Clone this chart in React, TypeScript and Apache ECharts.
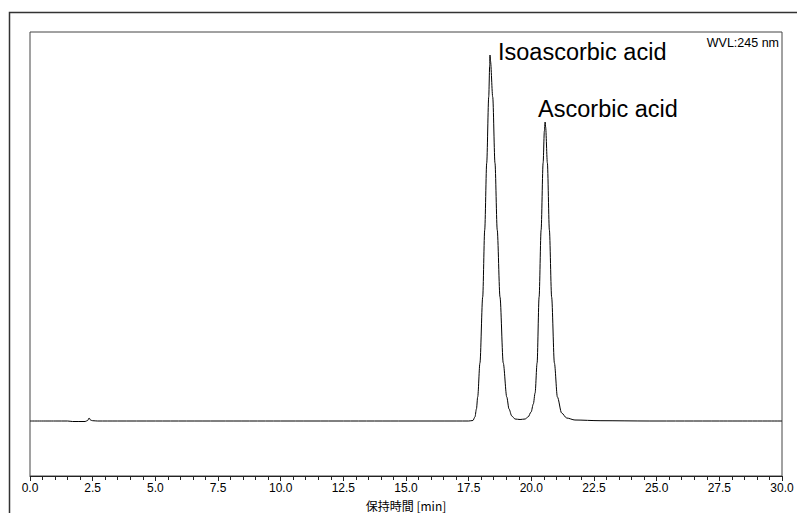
import React, { useEffect, useRef } from "react";
import * as echarts from "echarts";

// Retention time [min]
const retentionTime: number[] = [
  0, 1.0, 1.5, 1.7, 2.2, 2.3, 2.36, 2.42, 2.5, 2.7, 3.5, 5.0, 7.5, 10.0, 12.5, 15.0, 17.0, 17.5,
  17.67, 17.75, 17.81, 17.86, 17.95, 18.06, 18.14, 18.22, 18.3, 18.34, 18.35, 18.37, 18.46, 18.55,
  18.64, 18.75, 18.88, 19.02, 19.11, 19.22, 19.35, 19.55,
  19.75, 19.87, 19.99, 20.08, 20.15, 20.23, 20.31, 20.39, 20.47, 20.52, 20.55, 20.57, 20.64, 20.72,
  20.81, 20.92, 21.04, 21.21, 21.41, 21.74, 22.74, 24.73, 27.5, 30.0,
];

// Detector signal (arbitrary units, baseline = 0)
const signal: number[] = [
  0, 0, 0, -0.5, -0.5, 0.5, 3, 0.8, 0.3, 0, 0, 0, 0, 0, 0, 0, 0, 0,
  0.5, 4, 12, 24, 58, 124, 191, 258, 324, 356, 366, 360, 324, 258,
  191, 124, 58, 24, 12, 5, 2, 1.5,
  2, 4, 9, 17, 28, 58, 124, 191, 258, 290, 299, 294, 258, 191,
  124, 58, 24, 8, 3, 1, 0.3, 0, 0, 0,
];

const xTicks: number[] = [0, 2.5, 5, 7.5, 10, 12.5, 15, 17.5, 20, 22.5, 25, 27.5, 30];

const peakNames: string[] = ["Isoascorbic acid", "Ascorbic acid"];
const peakTimes: number[] = [18.35, 20.55];
const peakHeights: number[] = [366, 299];

const xAxisName = "保持時間 [min]";
const wavelengthLabel = "WVL:245 nm";

export default function App() {
  const ref = useRef<HTMLDivElement>(null);

  useEffect(() => {
    if (!ref.current) return;
    const chart = echarts.init(ref.current, undefined, { renderer: "svg" });
    const data = retentionTime.map((t, i) => [t, signal[i]]);
    chart.setOption({
      animation: false,
      backgroundColor: "#ffffff",
      grid: {
        left: 30,
        right: 15,
        top: 32,
        bottom: 37,
        show: true,
        borderColor: "#444",
        borderWidth: 1,
        containLabel: false,
        outerBoundsMode: "none",
      },
      xAxis: {
        type: "value",
        min: xTicks[0],
        max: xTicks[xTicks.length - 1],
        interval: 2.5,
        axisLine: { show: true, onZero: false, lineStyle: { color: "#222", width: 1 } },
        axisTick: { show: true, inside: false, length: 5, lineStyle: { color: "#222" } },
        minorTick: { show: true, splitNumber: 5, length: 4, lineStyle: { color: "#222" } },
        splitLine: { show: false },
        axisLabel: {
          color: "#000",
          fontSize: 12,
          lineHeight: 12,
          fontFamily: "Liberation Sans",
          margin: 6,
          formatter: (v: number) => v.toFixed(1),
        },
      },
      yAxis: {
        type: "value",
        min: -55,
        max: 389,
        show: false,
      },
      series: [
        {
          type: "line",
          data,
          showSymbol: false,
          symbol: "none",
          smooth: 0.3,
          smoothMonotone: "x",
          lineStyle: { color: "#000", width: 1 },
        },
      ],
    });

    const offsets = [
      [8, -3],
      [-7, -13],
    ];
    const labels = peakNames.map((name, i) => {
      const p = chart.convertToPixel({ gridIndex: 0 }, [peakTimes[i], peakHeights[i]]) as number[];
      return {
        type: "text",
        x: p[0] + offsets[i][0],
        y: p[1] + offsets[i][1],
        style: {
          text: name,
          fill: "#000",
          fontSize: 23.5,
          fontFamily: "Liberation Sans",
          align: "left",
          verticalAlign: "middle",
        },
      };
    });

    const mid = chart.convertToPixel({ gridIndex: 0 }, [15, 0]) as number[];

    chart.setOption({
      graphic: [
        {
          type: "polyline",
          shape: { points: [[9.5, 513], [9.5, 12.5], [797, 12.5]] },
          style: { stroke: "#333", lineWidth: 1.5, fill: "none" },
          silent: true,
        },
        {
          type: "text",
          right: 18,
          top: 36,
          style: {
            text: wavelengthLabel,
            fill: "#000",
            fontSize: 12.5,
            fontFamily: "Liberation Sans",
          },
        },
        {
          type: "text",
          x: mid[0],
          y: 505,
          style: {
            text: xAxisName,
            fill: "#000",
            fontSize: 12,
            lineHeight: 12,
            fontFamily: "Noto Sans CJK JP",
            align: "center",
            verticalAlign: "middle",
          },
        },
        ...labels,
      ],
    });

    return () => chart.dispose();
  }, []);

  return (
    <div
      ref={ref}
      style={{ position: "fixed", left: 0, top: 0, width: 797, height: 513 }}
    />
  );
}
